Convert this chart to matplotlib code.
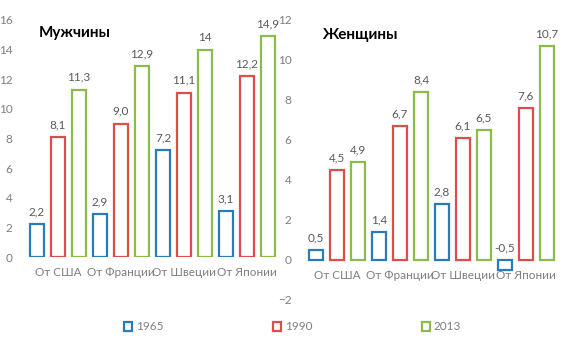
import matplotlib.pyplot as plt
import numpy as np
from matplotlib.patches import Patch

plt.rcParams['font.family'] = ['Lato', 'DejaVu Sans']

categories = ['От США', 'От Франции', 'От Швеции', 'От Японии']
years = ['1965', '1990', '2013']
colors = ['#2B7BBA', '#DE4C4C', '#8CBB4C']

men = [[2.2, 2.9, 7.2, 3.1],
       [8.1, 9.0, 11.1, 12.2],
       [11.3, 12.9, 14.0, 14.9]]
men_labels = [['2,2', '2,9', '7,2', '3,1'],
              ['8,1', '9,0', '11,1', '12,2'],
              ['11,3', '12,9', '14', '14,9']]

women = [[0.5, 1.4, 2.8, -0.5],
         [4.5, 6.7, 6.1, 7.6],
         [4.9, 8.4, 6.5, 10.7]]
women_labels = [['0,5', '1,4', '2,8', '-0,5'],
                ['4,5', '6,7', '6,1', '7,6'],
                ['4,9', '8,4', '6,5', '10,7']]

W, H = 565, 340
fig = plt.figure(figsize=(W / 100, H / 100), dpi=100)

gray = '#7F7F7F'
lab_gray = '#595959'


def draw(ax, data, labels, title, ylim, yticks, title_xy):
    x = np.arange(len(categories))
    for i in range(3):
        bars = ax.bar(x + (i - 1) / 3, data[i], width=0.23, facecolor='white',
                      edgecolor=colors[i], linewidth=1.6)
        for b, v, t in zip(bars, data[i], labels[i]):
            ax.annotate(t, (b.get_x() + b.get_width() / 2, max(v, 0)),
                        xytext=(0, 5), textcoords='offset points',
                        ha='center', va='bottom', fontsize=8.5, color=lab_gray)
    ax.set_xlim(-0.5, 3.5)
    ax.set_ylim(*ylim)
    ax.set_yticks(yticks)
    ax.set_xticks(x)
    ax.set_xticklabels(categories)
    ax.spines['bottom'].set_position(('data', 0))
    for s in ax.spines.values():
        s.set_visible(False)
    ax.tick_params(axis='both', length=0, labelsize=8.5, colors=gray)
    ax.tick_params(axis='y', pad=10)
    ax.tick_params(axis='x', pad=7)
    ax.patch.set_alpha(0)
    fig.text(title_xy[0] / W, 1 - title_xy[1] / H, title, fontsize=11,
             fontweight='bold', color='black', va='center', ha='left')


ax1 = fig.add_axes([26.5 / W, 83 / H, 252 / W, 237 / H])
draw(ax1, men, men_labels, 'Мужчины', (0, 16), range(0, 17, 2), (39, 33))

ax2 = fig.add_axes([305.5 / W, 40 / H, 252 / W, 280 / H])
draw(ax2, women, women_labels, 'Женщины', (-2, 12), range(-2, 13, 2), (322, 35))

handles = [Patch(facecolor='white', edgecolor=c, linewidth=1.6) for c in colors]
fig.legend(handles, years, loc='center', bbox_to_anchor=(0.5 + 10 / W, 1 - 327 / H),
           ncol=3, frameon=False, fontsize=8.5, labelcolor=gray,
           handlelength=0.7, handleheight=0.7, handletextpad=0.3,
           columnspacing=9.3)

fig.savefig('out.png', dpi=100)
